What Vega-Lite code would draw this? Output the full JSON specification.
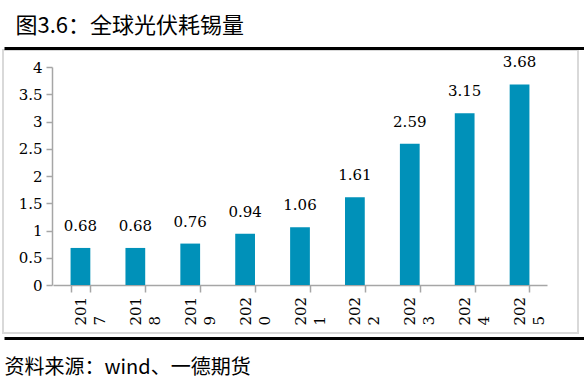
{
  "$schema": "https://vega.github.io/schema/vega-lite/v6.json",
  "width": 575,
  "height": 283,
  "autosize": {"type": "none"},
  "padding": {"left": 3, "top": 50, "right": 6, "bottom": 48},
  "background": "white",
  "config": {"view": {"stroke": "#d9d9d9", "strokeWidth": 2}},
  "data": {
    "values": [
      {"year": "2017", "value": 0.68},
      {"year": "2018", "value": 0.68},
      {"year": "2019", "value": 0.76},
      {"year": "2020", "value": 0.94},
      {"year": "2021", "value": 1.06},
      {"year": "2022", "value": 1.61},
      {"year": "2023", "value": 2.59},
      {"year": "2024", "value": 3.15},
      {"year": "2025", "value": 3.68}
    ]
  },
  "encoding": {
    "y": {
      "field": "value", "type": "quantitative",
      "scale": {"domain": [0, 4], "range": [235, 17], "nice": false},
      "axis": {
        "offset": -49, "title": null, "grid": false,
        "values": [0, 0.5, 1, 1.5, 2, 2.5, 3, 3.5, 4], "format": "~g",
        "labelOverlap": false,
        "tickSize": 6, "tickColor": "#a6a6a6", "domainColor": "#a6a6a6",
        "domainWidth": 1.5, "tickWidth": 1.5, "labelPadding": 4,
        "labelFont": "DejaVu Serif", "labelFontSize": 15, "labelColor": "black"
      }
    }
  },
  "layer": [
    {
      "mark": {"type": "bar", "color": "#0091B9"},
      "encoding": {
        "x": {
          "field": "year", "type": "ordinal",
          "scale": {"range": [50, 544], "paddingInner": 0.64, "paddingOuter": 0.32},
          "axis": {
            "orient": "bottom", "offset": -48, "title": null,
            "tickBand": "extent", "tickSize": 7, "tickColor": "#a6a6a6",
            "domainColor": "#a6a6a6", "domainWidth": 1.5, "tickWidth": 1.5,
            "labelAngle": -90, "labelAlign": "left", "labelBaseline": "middle",
            "labelPadding": 33, "labelLineHeight": 19,
            "labelExpr": "[substring(datum.label, 0, 3), substring(datum.label, 3)]",
            "labelFont": "DejaVu Serif", "labelFontSize": 15, "labelColor": "black"
          }
        }
      }
    },
    {
      "mark": {"type": "text", "dy": -17, "baseline": "alphabetic", "align": "center",
               "font": "DejaVu Serif", "fontSize": 15, "color": "black"},
      "encoding": {
        "x": {
          "field": "year", "type": "ordinal",
          "scale": {"range": [50, 544], "paddingInner": 0.64, "paddingOuter": 0.32},
          "axis": null
        },
        "text": {"field": "value", "type": "quantitative", "format": ".2f"}
      }
    },
    {
      "mark": {"type": "tick", "opacity": 0},
      "encoding": {
        "x": {
          "field": "year", "type": "ordinal",
          "scale": {"range": [1, 581]},
          "axis": {
            "orient": "top", "offset": 2, "domainColor": "black", "domainWidth": 3,
            "ticks": false, "labels": false,
            "title": "图3.6：全球光伏耗锡量",
            "titleFont": "Noto Sans CJK SC", "titleFontSize": 22, "titleFontWeight": "normal",
            "titleColor": "black", "titleAnchor": "start", "titleAlign": "left",
            "titleBaseline": "alphabetic", "titleX": 12, "titleY": -16
          }
        }
      }
    },
    {
      "mark": {"type": "tick", "opacity": 0},
      "encoding": {
        "x": {
          "field": "year", "type": "nominal",
          "scale": {"range": [1, 581]},
          "axis": {
            "orient": "bottom", "offset": 5, "domainColor": "black", "domainWidth": 3,
            "ticks": false, "labels": false,
            "title": "资料来源：wind、一德期货",
            "titleFont": "Noto Sans CJK SC", "titleFontSize": 20, "titleFontWeight": "normal",
            "titleColor": "black", "titleAnchor": "start", "titleAlign": "left",
            "titleBaseline": "alphabetic", "titleX": 1, "titleY": 35
          }
        }
      }
    }
  ],
  "resolve": {"scale": {"x": "independent"}, "axis": {"x": "independent"}}
}
